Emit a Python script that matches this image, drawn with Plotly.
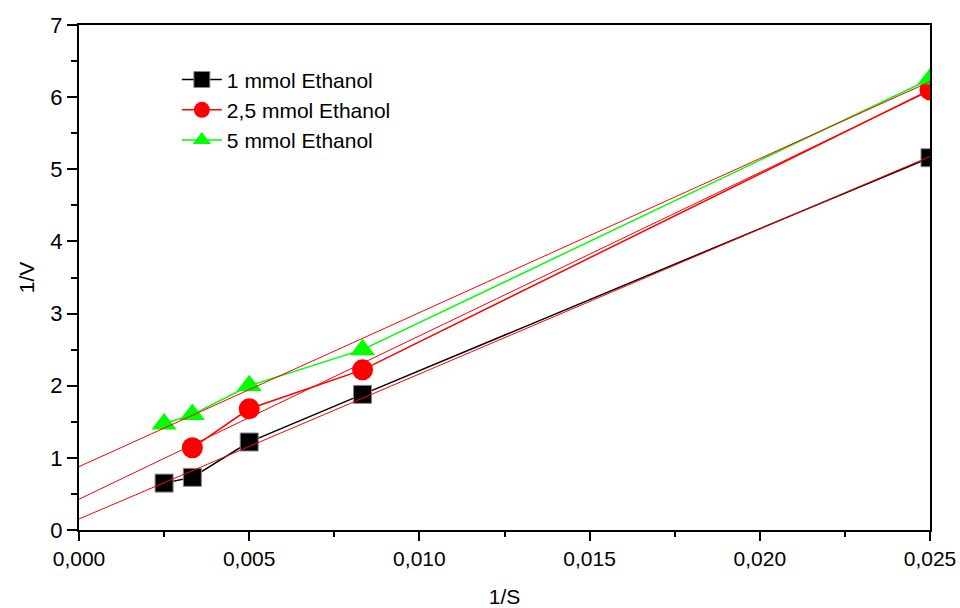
import numpy as np
import plotly.graph_objects as go

# Data
x_1mmol = [0.0025, 0.00333, 0.005, 0.00833, 0.025]
y_1mmol = [0.65, 0.73, 1.22, 1.88, 5.16]

x_25mmol = [0.00333, 0.005, 0.00833, 0.025]
y_25mmol = [1.14, 1.68, 2.22, 6.10]

x_5mmol = [0.0025, 0.00333, 0.005, 0.00833, 0.025]
y_5mmol = [1.47, 1.60, 2.00, 2.50, 6.25]

names = ["1 mmol Ethanol", "2,5 mmol Ethanol", "5 mmol Ethanol"]
fit_range = [0.0, 0.025]

FONT = "Liberation Sans, Arial, sans-serif"

fig = go.Figure()

series = [
    (x_1mmol, y_1mmol, names[0], "black", "square", 18, dict(color="#888888", width=1)),
    (x_25mmol, y_25mmol, names[1], "#ff0000", "circle", 21, dict(width=0)),
    (x_5mmol, y_5mmol, names[2], "#00ff00", "triangle-up", 22, dict(width=0)),
]

for xs, ys, nm, col, sym, sz, mline in series:
    fig.add_trace(go.Scatter(
        x=xs, y=ys, name=nm, mode="lines+markers",
        line=dict(color=col, width=1.5),
        marker=dict(symbol=sym, size=sz, color=col, line=mline),
    ))

# Linear regression fit lines (red), computed from the data
xf = np.array(fit_range)
for xs, ys, *_ in series:
    slope, intercept = np.polyfit(xs, ys, 1)
    fig.add_trace(go.Scatter(
        x=xf, y=slope * xf + intercept, mode="lines",
        line=dict(color="#ff0000", width=1), showlegend=False, hoverinfo="skip",
    ))

fig.update_layout(
    width=960, height=608,
    margin=dict(l=79, r=30, t=25, b=78, autoexpand=False),
    paper_bgcolor="white", plot_bgcolor="white",
    separators=",.",
    font=dict(family=FONT, size=20, color="black"),
    showlegend=True,
    legend=dict(
        x=0.115, y=0.932, xanchor="left", yanchor="top",
        bgcolor="rgba(0,0,0,0)", borderwidth=0,
        font=dict(family=FONT, size=21, color="black"),
        itemwidth=40, tracegroupgap=0,
    ),
    xaxis=dict(
        range=[0, 0.025], dtick=0.005, tickformat=".3f", automargin=False,
        showgrid=False, zeroline=False,
        showline=True, linecolor="black", linewidth=2, mirror=True,
        ticks="outside", ticklen=9, tickwidth=1.5, tickcolor="black",
        minor=dict(ticks="outside", ticklen=5, tickwidth=1.5, tickcolor="black", dtick=0.0025),
        tickfont=dict(family=FONT, size=21),
        title=dict(text="1/S", font=dict(family=FONT, size=21), standoff=24),
    ),
    yaxis=dict(
        range=[0, 7], dtick=1, automargin=False,
        showgrid=False, zeroline=False,
        showline=True, linecolor="black", linewidth=2, mirror=True,
        ticks="outside", ticklen=10, tickwidth=1.5, tickcolor="black",
        minor=dict(ticks="outside", ticklen=6, tickwidth=1.5, tickcolor="black", dtick=0.5),
        tickfont=dict(family=FONT, size=22),
        title=dict(text="1/V", font=dict(family=FONT, size=21), standoff=10),
    ),
)

fig.write_html("out.html")
